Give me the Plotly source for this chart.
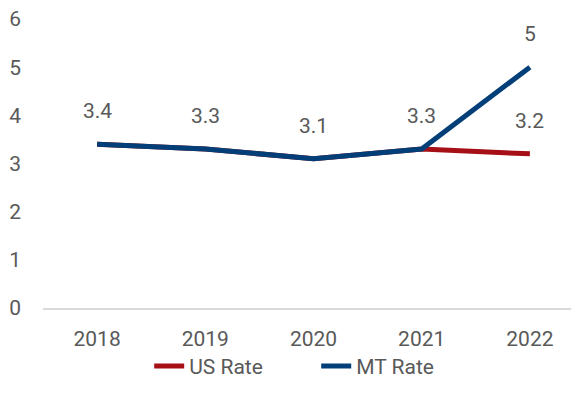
import plotly.graph_objects as go

years = ["2018", "2019", "2020", "2021", "2022"]
us_rate = [3.4, 3.3, 3.1, 3.3, 3.2]
mt_rate = [3.4, 3.3, 3.1, 3.3, 5]

FONT = "Roboto, sans-serif"
RED = "#A50F15"
BLUE = "#023F78"
GREY = "#595959"

fig = go.Figure()
fig.add_trace(go.Scatter(x=years, y=us_rate, mode="lines", name="US Rate",
                         line=dict(color=RED, width=5)))
fig.add_trace(go.Scatter(x=years, y=mt_rate, mode="lines", name="MT Rate",
                         line=dict(color=BLUE, width=5)))

for i in range(len(years)):
    fig.add_annotation(x=i, y=mt_rate[i], xref="x", yref="y", text=f"{mt_rate[i]:g}",
                       showarrow=False, yshift=33,
                       font=dict(size=21, color=GREY, family=FONT))
    if us_rate[i] != mt_rate[i]:
        fig.add_annotation(x=i, y=us_rate[i], xref="x", yref="y", text=f"{us_rate[i]:g}",
                           showarrow=False, yshift=33,
                           font=dict(size=21, color=GREY, family=FONT))

fig.update_layout(
    width=579, height=404,
    margin=dict(l=35, r=3, t=11, b=104, autoexpand=False),
    plot_bgcolor="white", paper_bgcolor="white",
    font=dict(family=FONT, size=21, color=GREY),
    showlegend=True,
    legend=dict(orientation="h", x=0.505, xanchor="center", y=-0.131, yanchor="top",
                font=dict(size=21, color=GREY), tracegroupgap=0,
                bgcolor="rgba(0,0,0,0)", entrywidth=122, entrywidthmode="pixels"),
    xaxis=dict(type="category", showgrid=False, showline=True, linecolor="#D9D9D9",
               linewidth=1.5, ticks="", tickfont=dict(size=21, color=GREY),
               range=[-0.5, 4.5], automargin=False, ticklabelstandoff=11,
               ticklabeloverflow="allow"),
    yaxis=dict(range=[0, 6], dtick=1, showgrid=False, zeroline=False, showline=False,
               tickfont=dict(size=21, color=GREY), ticklabelstandoff=21, automargin=False,
               ticklabeloverflow="allow"),
)

fig.write_html("out.html")
